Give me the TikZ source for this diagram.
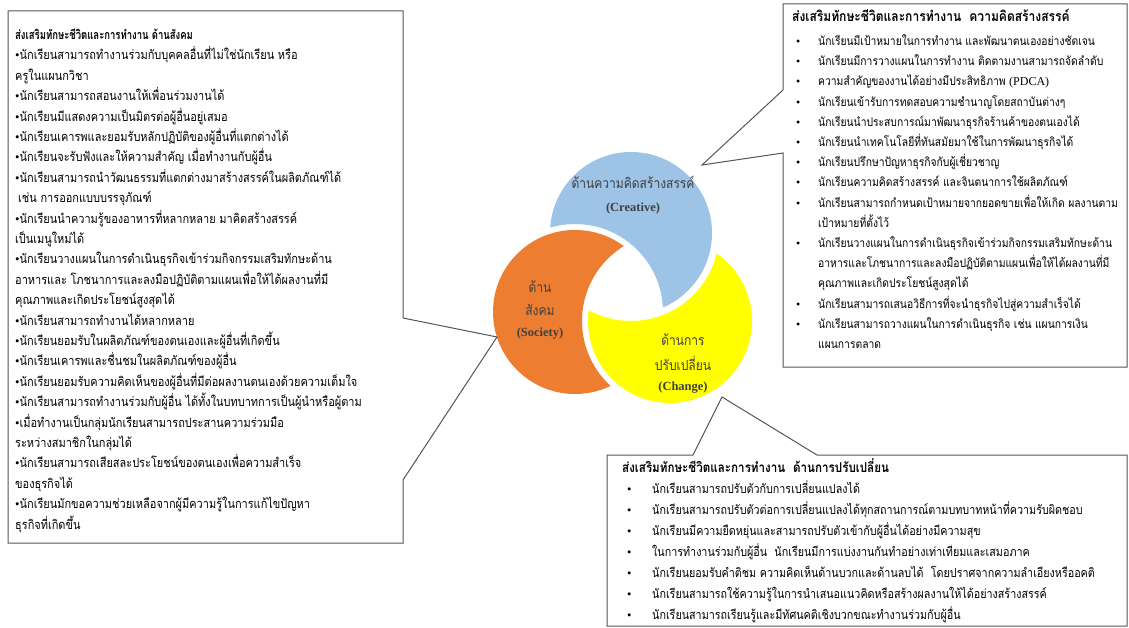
\documentclass[tikz,border=0pt]{standalone}
\usepackage{fontspec}
\setmainfont{Liberation Serif}
\newfontfamily\thai[Script=Thai,FakeStretch=0.86]{Loma}
\newfontfamily\thaihd[Script=Thai,FakeStretch=0.76]{Loma}
\newfontfamily\lserif{Liberation Serif}
\definecolor{cblue}{RGB}{157,195,230}
\definecolor{corange}{RGB}{237,125,49}
\definecolor{cyellow}{RGB}{255,255,0}
\definecolor{edgecol}{RGB}{85,85,85}
\definecolor{ctext}{RGB}{64,64,64}
\newcommand{\bul}{{\lserif\textbullet}}
\begin{document}
\begin{tikzpicture}[x=1pt,y=-1pt,
  callout/.style={draw=edgecol, line width=1pt, fill=white, line join=miter},
  boxtext/.style={anchor=north west, inner sep=0pt, align=left, text=black},
  circlabel/.style={text=ctext, align=center, inner sep=0pt, font=\thai\fontsize{14}{16}\selectfont},
  latlabel/.style={text=ctext, inner sep=0pt, font=\lserif\bfseries\fontsize{12.5}{14}\selectfont}]
\useasboundingbox (0,0) rectangle (1129,628);
\fill[white] (0,0) rectangle (1129,628);

% circle centres
\coordinate (cB) at (631,233);
\coordinate (cO) at (575,312);
\coordinate (cY) at (670,321);

% crescents: each circle bitten by the next one (plus a gap)
\begin{scope}[even odd rule]
  \clip (0,0) rectangle (1129,628) (cO) circle[radius=88pt];
  \fill[cblue] (cB) circle[radius=81pt];
\end{scope}
\begin{scope}[even odd rule]
  \clip (0,0) rectangle (1129,628) (cY) circle[radius=88pt];
  \fill[corange] (cO) circle[radius=82pt];
\end{scope}
\begin{scope}[even odd rule]
  \clip (0,0) rectangle (1129,628) (cB) circle[radius=88pt];
  \fill[cyellow] (cY) circle[radius=82pt];
\end{scope}

% circle labels
\node[circlabel] (lb1) at (633,182) {ด้านความคิดสร้างสรรค์};
\node[latlabel]  (lb2) at (633,208) {(Creative)};
\node[circlabel] (lo1) at (540,287) {ด้าน};
\node[circlabel] (lo2) at (540,310) {สังคม};
\node[latlabel]  (lo3) at (540,334) {(Society)};
\node[circlabel] (ly1) at (683,340) {ด้านการ};
\node[circlabel] (ly2) at (683,363) {ปรับเปลี่ยน};
\node[latlabel]  (ly3) at (683,388) {(Change)};

% callout pointer tips
\coordinate (Ltip) at (497,337);
\coordinate (Rtip) at (702,165);
\coordinate (Btip) at (722,397);

% left callout
\draw[callout] (8,11) -- (403,11) -- (403,318) -- (Ltip) -- (403,480) -- (403,543) -- (8,543) -- cycle;
% top right callout
\draw[callout] (783,4) -- (1127,4) -- (1127,367) -- (783,367) -- (783,153) -- (Rtip) -- (783,90) -- cycle;
% bottom right callout
\draw[callout] (607,455) -- (693,455) -- (Btip) -- (817,455) -- (1127,455) -- (1127,626) -- (607,626) -- cycle;

% left text
\node[boxtext] (ltext) at (15,25) {\thai\fontsize{12.75}{20.4}\selectfont
\begin{tabular}{@{}l@{}}
{\thaihd\bfseries\fontsize{12.5}{14}\selectfont ส่งเสริมทักษะชีวิตและการทำงาน ด้านสังคม}\\
\bul นักเรียนสามารถทำงานร่วมกับบุคคลอื่นที่ไม่ใช่นักเรียน หรือ\\
ครูในแผนกวิชา\\
\bul นักเรียนสามารถสอนงานให้เพื่อนร่วมงานได้\\
\bul นักเรียนมีแสดงความเป็นมิตรต่อผู้อื่นอยู่เสมอ\\
\bul นักเรียนเคารพและยอมรับหลักปฏิบัติของผู้อื่นที่แตกต่างได้\\
\bul นักเรียนจะรับฟังและให้ความสำคัญ เมื่อทำงานกับผู้อื่น\\
\bul นักเรียนสามารถนำวัฒนธรรมที่แตกต่างมาสร้างสรรค์ในผลิตภัณฑ์ได้\\
\hspace{3pt}เช่น การออกแบบบรรจุภัณฑ์\\
\bul นักเรียนนำความรู้ของอาหารที่หลากหลาย มาคิดสร้างสรรค์\\
เป็นเมนูใหม่ได้\\
\bul นักเรียนวางแผนในการดำเนินธุรกิจเข้าร่วมกิจกรรมเสริมทักษะด้าน\\
อาหารและ โภชนาการและลงมือปฏิบัติตามแผนเพื่อให้ได้ผลงานที่มี\\
คุณภาพและเกิดประโยชน์สูงสุดได้\\
\bul นักเรียนสามารถทำงานได้หลากหลาย\\
\bul นักเรียนยอมรับในผลิตภัณฑ์ของตนเองและผู้อื่นที่เกิดขึ้น\\
\bul นักเรียนเคารพและชื่นชมในผลิตภัณฑ์ของผู้อื่น\\
\bul นักเรียนยอมรับความคิดเห็นของผู้อื่นที่มีต่อผลงานตนเองด้วยความเต็มใจ\\
\bul นักเรียนสามารถทำงานร่วมกับผู้อื่น ได้ทั้งในบทบาทการเป็นผู้นำหรือผู้ตาม\\
\bul เมื่อทำงานเป็นกลุ่มนักเรียนสามารถประสานความร่วมมือ\\
ระหว่างสมาชิกในกลุ่มได้\\
\bul นักเรียนสามารถเสียสละประโยชน์ของตนเองเพื่อความสำเร็จ\\
ของธุรกิจได้\\
\bul นักเรียนมักขอความช่วยเหลือจากผู้มีความรู้ในการแก้ไขปัญหา\\
ธุรกิจที่เกิดขึ้น
\end{tabular}};

% top right text
\node[boxtext] (rtext) at (792,7.5) {\thai\fontsize{12}{20.2}\selectfont
\begin{tabular}{@{}p{26pt}@{}l@{}}
\multicolumn{2}{@{}l@{}}{\bfseries\fontsize{14}{16}\selectfont ส่งเสริมทักษะชีวิตและการทำงาน\ \ ความคิดสร้างสรรค์}\\[3.4pt]
\hspace{4pt}\bul & นักเรียนมีเป้าหมายในการทำงาน และพัฒนาตนเองอย่างชัดเจน\\
\hspace{4pt}\bul & นักเรียนมีการวางแผนในการทำงาน ติดตามงานสามารถจัดลำดับ\\
\hspace{4pt}\bul & ความสำคัญของงานได้อย่างมีประสิทธิภาพ {\lserif (PDCA)}\\
\hspace{4pt}\bul & นักเรียนเข้ารับการทดสอบความชำนาญโดยสถาบันต่างๆ\\
\hspace{4pt}\bul & นักเรียนนำประสบการณ์มาพัฒนาธุรกิจร้านค้าของตนเองได้\\
\hspace{4pt}\bul & นักเรียนนำเทคโนโลยีที่ทันสมัยมาใช้ในการพัฒนาธุรกิจได้\\
\hspace{4pt}\bul & นักเรียนปรึกษาปัญหาธุรกิจกับผู้เชี่ยวชาญ\\
\hspace{4pt}\bul & นักเรียนความคิดสร้างสรรค์ และจินตนาการใช้ผลิตภัณฑ์\\
\hspace{4pt}\bul & นักเรียนสามารถกำหนดเป้าหมายจากยอดขายเพื่อให้เกิด ผลงานตาม\\
 & เป้าหมายที่ตั้งไว้\\
\hspace{4pt}\bul & นักเรียนวางแผนในการดำเนินธุรกิจเข้าร่วมกิจกรรมเสริมทักษะด้าน\\
 & อาหารและโภชนาการและลงมือปฏิบัติตามแผนเพื่อให้ได้ผลงานที่มี\\
 & คุณภาพและเกิดประโยชน์สูงสุดได้\\
\hspace{4pt}\bul & นักเรียนสามารถเสนอวิธีการที่จะนำธุรกิจไปสู่ความสำเร็จได้\\
\hspace{4pt}\bul & นักเรียนสามารถวางแผนในการดำเนินธุรกิจ เช่น แผนการเงิน\\
 & แผนการตลาด
\end{tabular}};

% bottom text
\node[boxtext] (btext) at (622,457.5) {\thai\fontsize{12.5}{21}\selectfont
\begin{tabular}{@{}p{30pt}@{}l@{}}
\multicolumn{2}{@{}l@{}}{\bfseries\fontsize{13.5}{16}\selectfont ส่งเสริมทักษะชีวิตและการทำงาน\ \ ด้านการปรับเปลี่ยน}\\
\hspace{5pt}\bul & นักเรียนสามารถปรับตัวกับการเปลี่ยนแปลงได้\\
\hspace{5pt}\bul & นักเรียนสามารถปรับตัวต่อการเปลี่ยนแปลงได้ทุกสถานการณ์ตามบทบาทหน้าที่ความรับผิดชอบ\\
\hspace{5pt}\bul & นักเรียนมีความยืดหยุ่นและสามารถปรับตัวเข้ากับผู้อื่นได้อย่างมีความสุข\\
\hspace{5pt}\bul & ในการทำงานร่วมกับผู้อื่น\ \ นักเรียนมีการแบ่งงานกันทำอย่างเท่าเทียมและเสมอภาค\\
\hspace{5pt}\bul & นักเรียนยอมรับคำติชม ความคิดเห็นด้านบวกและด้านลบได้\ \ โดยปราศจากความลำเอียงหรืออคติ\\
\hspace{5pt}\bul & นักเรียนสามารถใช้ความรู้ในการนำเสนอแนวคิดหรือสร้างผลงานให้ได้อย่างสร้างสรรค์\\
\hspace{5pt}\bul & นักเรียนสามารถเรียนรู้และมีทัศนคติเชิงบวกขณะทำงานร่วมกับผู้อื่น
\end{tabular}};
\end{tikzpicture}
\end{document}
